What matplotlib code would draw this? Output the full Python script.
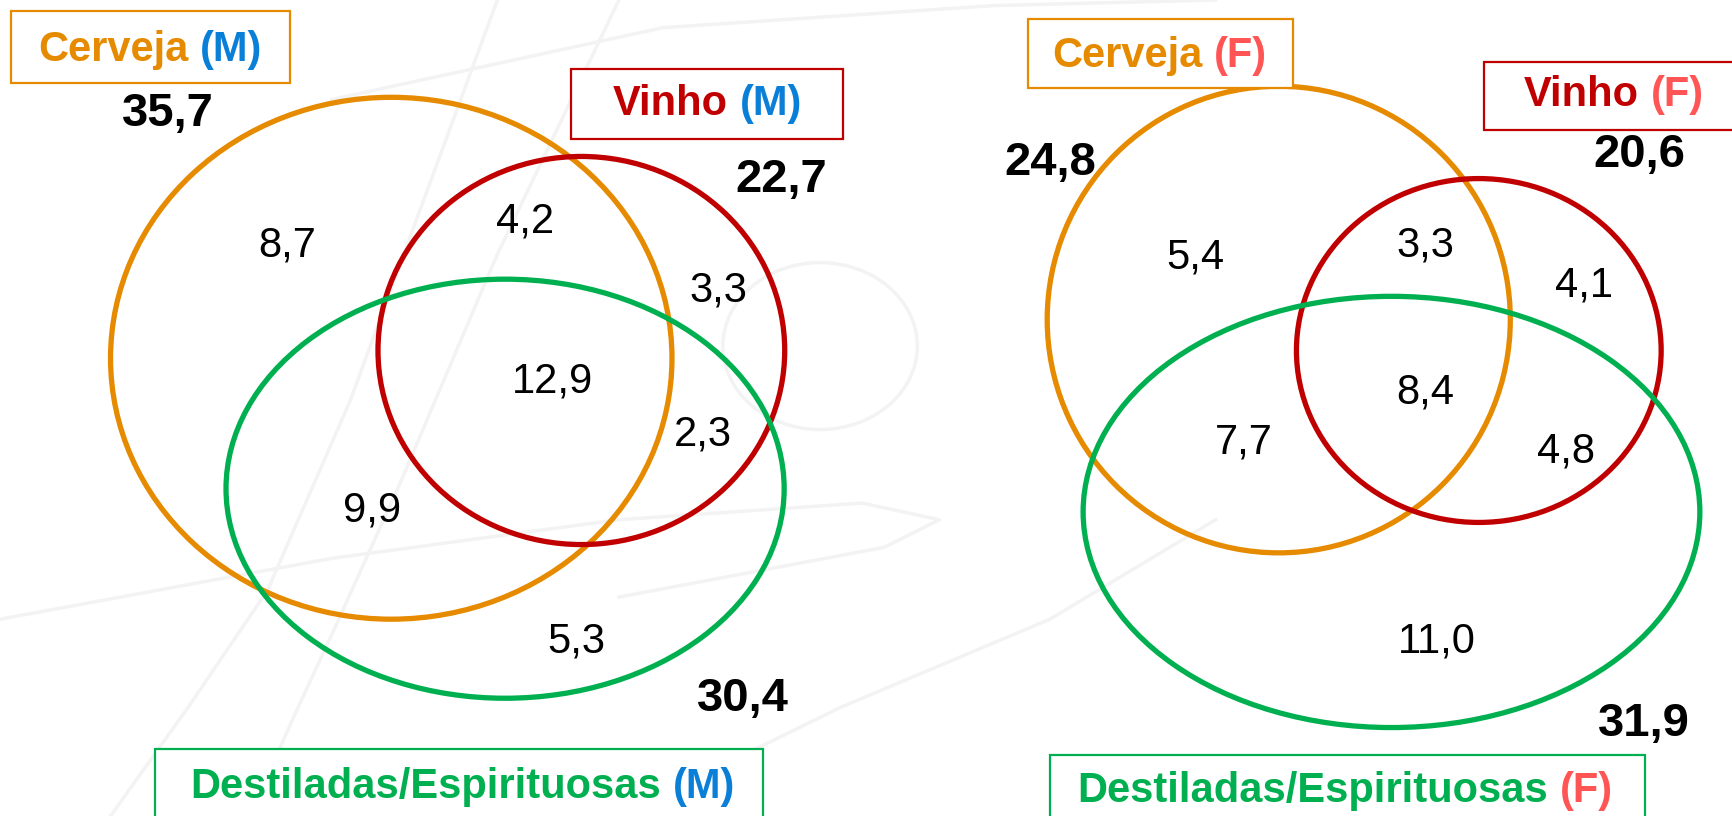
import matplotlib.pyplot as plt
from matplotlib.patches import Ellipse, Rectangle

plt.rcParams['font.family'] = ['Liberation Sans', 'DejaVu Sans']

# data: percentages in each Venn region (C = Cerveja, V = Vinho, D = Destiladas)
categories = ["Cerveja", "Vinho", "Destiladas/Espirituosas"]
groups = ["M", "F"]
region_names = ["C", "V", "D", "CV", "CD", "VD", "CVD"]
totals_m = [35.7, 22.7, 30.4]
totals_f = [24.8, 20.6, 31.9]
regions_m = [8.7, 3.3, 5.3, 4.2, 9.9, 2.3, 12.9]
regions_f = [5.4, 4.1, 11.0, 3.3, 7.7, 4.8, 8.4]

cat_colors = ["#E68A00", "#C00000", "#00B050"]
group_colors = {"M": "#0A7FD8", "F": "#FF5555"}

W, H = 1568, 738  # working units

# layout (ellipse center x, y, width, height) per panel
ell_m = [(354, 324, 508, 472), (526, 317, 368, 351), (457, 442, 505, 379)]
ell_f = [(1157, 289, 419, 422), (1338, 317, 330, 311), (1259, 463, 558, 390)]
pos_m = [(260, 222), (650, 263), (521, 580), (475, 200), (337, 462), (636, 393), (500, 345)]
pos_f = [(1082, 233), (1433, 258), (1300, 580), (1290, 222), (1125, 400), (1417, 408), (1290, 355)]
tot_pos_m = [(152, 103), (707, 163), (672, 632)]
tot_pos_f = [(950, 147), (1483, 140), (1487, 655)]
box_m = [(10, 10, 262, 75), (517, 62, 763, 126), (140, 677, 690, 760)]
box_f = [(930, 17, 1170, 80), (1343, 56, 1600, 118), (950, 683, 1488, 760)]
lab_m = [(136, 45), (640, 94), (419, 712)]
lab_f = [(1049, 51), (1460, 86), (1217, 715)]

fig = plt.figure(figsize=(17.33, 8.16), dpi=100)
ax = fig.add_axes([0, 0, 1, 1])
ax.set_xlim(0, W)
ax.set_ylim(H, 0)
ax.axis("off")

# faint background watermark strokes
wm = "#F3F3F3"
ax.plot([100, 170, 242, 317, 380, 450], [738, 640, 534, 362, 190, 0], color=wm, lw=2.5, zorder=0)
ax.plot([226, 265, 302, 362, 450, 560], [738, 650, 570, 437, 230, 0], color=wm, lw=2.5, zorder=0)
ax.add_patch(Ellipse((742, 313), 176, 151, fill=False, ec=wm, lw=2.5, zorder=0))
ax.plot([0, 300, 560, 780, 850, 800, 560], [560, 505, 470, 455, 470, 495, 540], color=wm, lw=2.5, zorder=0)
ax.plot([560, 760, 950, 1100], [738, 640, 560, 470], color=wm, lw=2.5, zorder=0)
ax.plot([300, 600, 900, 1100], [90, 25, 5, 0], color=wm, lw=2.5, zorder=0)

fmt = lambda v: f"{v:.1f}".replace(".", ",")

fig.canvas.draw()
renderer = fig.canvas.get_renderer()
px2data = W / fig.bbox.width


def text_width(s, **kw):
    t = ax.text(0, 0, s, **kw)
    w = t.get_window_extent(renderer).width * px2data
    t.remove()
    return w


def two_tone(x, y, a, b, ca, cb, size):
    kw = dict(fontsize=size, fontweight="bold")
    wa = text_width(a, **kw)
    wb = text_width(b, **kw)
    ws = text_width("x x", **kw) - text_width("xx", **kw)
    x0 = x - (wa + ws + wb) / 2
    ax.text(x0, y, a, color=ca, ha="left", va="center", zorder=6, **kw)
    ax.text(x0 + wa + ws, y, b, color=cb, ha="left", va="center", zorder=6, **kw)


def panel(g, ells, regions, pos, totals, tpos, boxes, labs):
    for (cx, cy, w, h), c in zip(ells, cat_colors):
        ax.add_patch(Ellipse((cx, cy), w, h, fill=False, ec=c, lw=3.8, zorder=2))
    for v, (x, y) in zip(regions, pos):
        ax.text(x, y, fmt(v), fontsize=30, ha="center", va="center", zorder=3)
    for v, (x, y) in zip(totals, tpos):
        ax.text(x, y, fmt(v), fontsize=34, fontweight="bold", ha="center", va="center", zorder=3)
    for cat, c, (x1, y1, x2, y2), (lx, ly) in zip(categories, cat_colors, boxes, labs):
        ax.add_patch(Rectangle((x1, y1), x2 - x1, y2 - y1, fill=True, fc="white",
                               ec=c, lw=1.6, zorder=4))
        two_tone(lx, ly, cat, f"({g})", c, group_colors[g], 30)


panel("M", ell_m, regions_m, pos_m, totals_m, tot_pos_m, box_m, lab_m)
panel("F", ell_f, regions_f, pos_f, totals_f, tot_pos_f, box_f, lab_f)

fig.savefig("out.png", dpi=100)
